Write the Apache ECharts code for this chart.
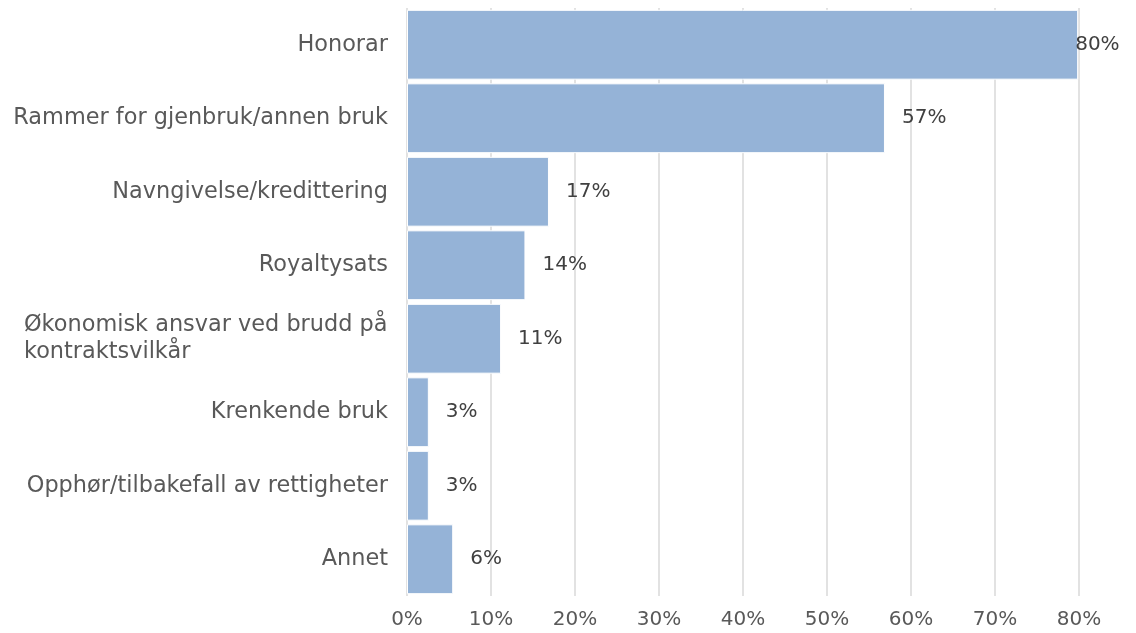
<!DOCTYPE html>
<html>
<head>
<meta charset="utf-8">
<script src="https://cdn.jsdelivr.net/npm/echarts@6/dist/echarts.min.js"></script>
<style>
html,body{margin:0;padding:0;background:#fff;}
#chart{width:1136px;height:633px;}
</style>
</head>
<body>
<div id="chart"></div>
<script>
var categories = [
  'Honorar',
  'Rammer for gjenbruk/annen bruk',
  'Navngivelse/kredittering',
  'Royaltysats',
  'Økonomisk ansvar ved brudd på\nkontraktsvilkår',
  'Krenkende bruk',
  'Opphør/tilbakefall av rettigheter',
  'Annet'
];
var values = [79.9, 56.9, 16.9, 14.1, 11.2, 2.6, 2.6, 5.5];
var tickLabels = ['0%','10%','20%','30%','40%','50%','60%','70%','80%'];

var FONT = 'DejaVu Sans';
var FS = 20;
var CFS = 22.4;

function measure(t){
  var c = document.createElement('canvas').getContext('2d');
  c.font = CFS + 'px "' + FONT + '"';
  return c.measureText(t).width;
}
var wrapped = categories.filter(function(c){ return c.indexOf('\n') >= 0; })[0];
var wrapW = Math.ceil(Math.max.apply(null, wrapped.split('\n').map(measure)));

var chart = echarts.init(document.getElementById('chart'));
chart.setOption({
  animation: false,
  grid: {left: 407, right: 57, top: 8, bottom: 37, containLabel: false},
  xAxis: {
    type: 'value', min: 0, max: 80, interval: 10,
    axisLine: {show: false}, axisTick: {show: false},
    splitLine: {lineStyle: {color: '#d9d9d9', width: 1.5}},
    axisLabel: {
      color: '#595959', fontFamily: FONT, fontSize: FS, margin: 14,
      formatter: function(v){ return tickLabels[Math.round(v/10)]; }
    }
  },
  yAxis: {
    type: 'category', inverse: true, data: categories,
    axisLine: {show: false}, axisTick: {show: false},
    axisLabel: {
      color: '#595959', fontFamily: FONT, fontSize: CFS, margin: 19,
      lineHeight: 27,
      formatter: function(v){
        if (v.indexOf('\n') < 0) return v;
        return v.split('\n').map(function(p){ return '{l|' + p + '}'; }).join('\n');
      },
      rich: {l: {align: 'left', color: '#595959', fontFamily: FONT, fontSize: CFS, lineHeight: 27, width: wrapW}}
    }
  },
  series: [{
    type: 'bar',
    data: values.map(function(v, i){
      var d = {value: v};
      if (i === 0) d.label = {offset: [-20, 0]};
      return d;
    }),
    barCategoryGap: '5%',
    itemStyle: {color: '#95b3d7', borderColor: '#ffffff', borderWidth: 1},
    label: {
      show: true, position: 'right', distance: 17,
      color: '#404040', fontFamily: FONT, fontSize: FS,
      formatter: function(p){ return Math.round(p.value) + '%'; }
    }
  }]
});
</script>
</body>
</html>
